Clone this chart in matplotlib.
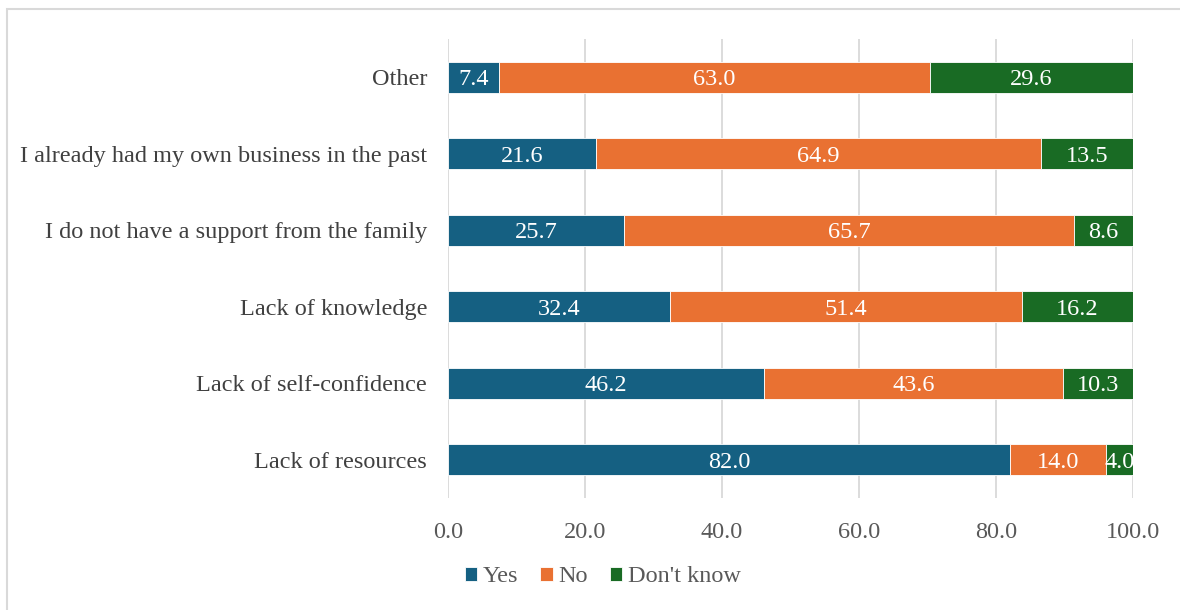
import numpy as np
import matplotlib.pyplot as plt
from matplotlib.patches import Rectangle

categories = ["Lack of resources", "Lack of self-confidence", "Lack of knowledge",
              "I do not have a support from the family",
              "I already had my own business in the past", "Other"]
yes = [82.0, 46.2, 32.4, 25.7, 21.6, 7.4]
no = [14.0, 43.6, 51.4, 65.7, 64.9, 63.0]
dont_know = [4.0, 10.3, 16.2, 8.6, 13.5, 29.6]
series_names = ["Yes", "No", "Don't know"]
colors = ["#156082", "#E97132", "#196B24"]

plt.rcParams['font.family'] = ['Liberation Serif', 'DejaVu Serif']
FS = 17.5

fig = plt.figure(figsize=(11.8, 6.1), dpi=100)
ax = fig.add_axes([448 / 1180, 1 - 498 / 610, (1133 - 448) / 1180, (498 - 39) / 610])

# light grey frame around the chart area
fig.patches.append(Rectangle((7 / 1180, -0.1), 1.2, 1 - 9 / 610 + 0.1,
                             transform=fig.transFigure, fill=False,
                             edgecolor="#d9d9d9", linewidth=1.5))

y = np.arange(len(categories))
left = np.zeros(len(categories))
for name, vals, c in zip(series_names, [yes, no, dont_know], colors):
    vals = np.array(vals)
    ax.barh(y, vals, left=left, height=0.41, color=c, label=name,
            edgecolor="white", linewidth=0.6, zorder=3)
    for yi, l, v in zip(y, left, vals):
        ax.text(l + v / 2, yi, f"{v:.1f}", ha="center", va="center_baseline",
                color="white", fontsize=FS, zorder=4)
    left += vals

ax.set_xlim(0, 100)
ax.set_ylim(-0.5, len(categories) - 0.5)
ax.set_yticks(y)
ax.set_yticklabels(categories, fontsize=FS, color="#404040")
ax.set_xticks(np.arange(0, 101, 20))
ax.set_xticklabels([f"{v:.1f}" for v in np.arange(0, 101, 20)], fontsize=FS, color="#595959")
ax.tick_params(axis="y", length=0, pad=15)
ax.tick_params(axis="x", length=0, pad=17)
ax.grid(axis="x", color="#d9d9d9", linewidth=1.3, zorder=0)
for s in ax.spines.values():
    s.set_visible(False)

leg = fig.legend(loc="center", bbox_to_anchor=(603 / 1180, 1 - 577 / 610), ncol=3,
                 frameon=False, fontsize=FS, handlelength=0.5, handleheight=0.5,
                 handletextpad=0.25, columnspacing=0.9)
for t in leg.get_texts():
    t.set_color("#595959")

fig.savefig("out.png", dpi=100)
